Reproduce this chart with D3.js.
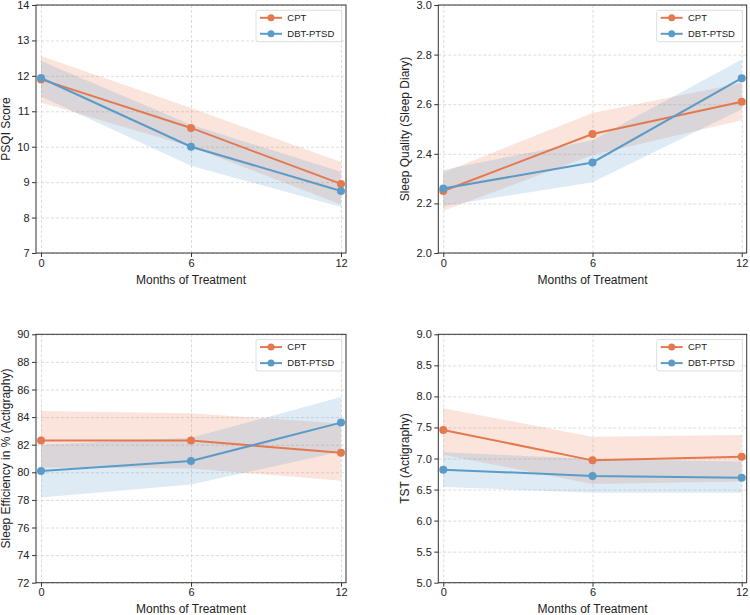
<!DOCTYPE html>
<html>
<head>
<meta charset="utf-8">
<script src="https://cdn.jsdelivr.net/npm/d3@7"></script>
<style>
  body { margin: 0; background: #fff; }
  svg { display: block; font-family: "Liberation Sans", Arial, Helvetica, sans-serif; }
  .tick text { fill: #222; }
</style>
</head>
<body>
<svg id="chart" width="750" height="615"></svg>
<script>
// Months on the x axis
const months = [0, 6, 12];
const groups = ['CPT', 'DBT-PTSD'];

// PSQI
const psqiCpt = [11.90, 10.53, 8.95];
const psqiCptLo = [11.25, 10.00, 8.37];
const psqiCptHi = [12.56, 11.09, 9.57];
const psqiDbt = [11.94, 10.00, 8.75];
const psqiDbtLo = [11.42, 9.46, 8.30];
const psqiDbtHi = [12.42, 10.62, 9.29];

// Sleep quality (diary)
const sqCpt = [2.25, 2.48, 2.61];
const sqCptLo = [2.17, 2.395, 2.535];
const sqCptHi = [2.325, 2.565, 2.685];
const sqDbt = [2.26, 2.365, 2.705];
const sqDbtLo = [2.19, 2.285, 2.58];
const sqDbtHi = [2.335, 2.455, 2.78];

// Sleep efficiency (actigraphy)
const seCpt = [82.3, 82.3, 81.42];
const seCptLo = [80.35, 80.28, 79.39];
const seCptHi = [84.45, 84.27, 83.54];
const seDbt = [80.1, 80.82, 83.6];
const seDbtLo = [78.18, 79.12, 81.5];
const seDbtHi = [82.0, 82.5, 85.45];

// TST (actigraphy)
const tstCpt = [7.46, 6.97, 7.03];
const tstCptLo = [7.06, 6.59, 6.63];
const tstCptHi = [7.81, 7.35, 7.38];
const tstDbt = [6.82, 6.72, 6.69];
const tstDbtLo = [6.54, 6.45, 6.45];
const tstDbtHi = [7.10, 6.99, 6.95];

// y ticks per panel
const psqiTicks = [7, 8, 9, 10, 11, 12, 13, 14];
const sqTicks = [2.0, 2.2, 2.4, 2.6, 2.8, 3.0];
const seTicks = [72, 74, 76, 78, 80, 82, 84, 86, 88, 90];
const tstTicks = [5.0, 5.5, 6.0, 6.5, 7.0, 7.5, 8.0, 8.5, 9.0];

const colors = {'CPT': '#E4794F', 'DBT-PTSD': '#5B9BC7'};

const panels = [
    {box: [36, 346, 5, 253], ylabel: 'PSQI Score', ticks: psqiTicks, fmt: d3.format('d'),
     series: [[psqiCpt, psqiCptLo, psqiCptHi], [psqiDbt, psqiDbtLo, psqiDbtHi]]},
    {box: [438.3, 746.7, 5, 253], ylabel: 'Sleep Quality (Sleep Diary)', ticks: sqTicks, fmt: d3.format('.1f'),
     series: [[sqCpt, sqCptLo, sqCptHi], [sqDbt, sqDbtLo, sqDbtHi]]},
    {box: [36, 346, 334.3, 582.7], ylabel: 'Sleep Efficiency in % (Actigraphy)', ticks: seTicks, fmt: d3.format('d'),
     series: [[seCpt, seCptLo, seCptHi], [seDbt, seDbtLo, seDbtHi]]},
    {box: [438.3, 746.7, 334.3, 582.7], ylabel: 'TST (Actigraphy)', ticks: tstTicks, fmt: d3.format('.1f'),
     series: [[tstCpt, tstCptLo, tstCptHi], [tstDbt, tstDbtLo, tstDbtHi]]}
];

const svg = d3.select('#chart');

panels.forEach(p => {
    const [x0, x1, y0, y1] = p.box;
    const w = x1 - x0, h = y1 - y0;
    const g = svg.append('g').attr('transform', `translate(${x0},${y0})`);

    const x = d3.scaleLinear().domain([-0.2, 12.2]).range([0, w]);
    const y = d3.scaleLinear().domain(d3.extent(p.ticks)).range([h, 0]);

    // grid
    g.append('g')
        .call(d3.axisLeft(y).tickValues(p.ticks).tickSize(-w).tickFormat(''))
        .call(s => s.select('.domain').remove())
        .call(s => s.selectAll('line').attr('stroke', '#cfcfcf').attr('stroke-width', 0.7).attr('stroke-dasharray', '3,2'));
    g.append('g')
        .call(d3.axisBottom(x).tickValues(months).tickSize(h).tickFormat(''))
        .call(s => s.select('.domain').remove())
        .call(s => s.selectAll('line').attr('stroke', '#cfcfcf').attr('stroke-width', 0.7).attr('stroke-dasharray', '3,2'));

    // bands
    p.series.forEach((s, i) => {
        const [mean, lo, hi] = s;
        const area = d3.area()
            .x((d, j) => x(months[j]))
            .y0((d, j) => y(lo[j]))
            .y1((d, j) => y(hi[j]));
        g.append('path')
            .datum(mean)
            .attr('d', area)
            .attr('fill', colors[groups[i]])
            .attr('fill-opacity', 0.2);
    });

    // lines + markers
    p.series.forEach((s, i) => {
        const mean = s[0];
        const c = colors[groups[i]];
        const line = d3.line().x((d, j) => x(months[j])).y(d => y(d));
        g.append('path')
            .datum(mean)
            .attr('d', line)
            .attr('fill', 'none')
            .attr('stroke', c)
            .attr('stroke-width', 2);
        g.selectAll(null)
            .data(mean)
            .enter().append('circle')
            .attr('cx', (d, j) => x(months[j]))
            .attr('cy', d => y(d))
            .attr('r', 4)
            .attr('fill', c);
    });

    // axes
    g.append('g')
        .call(d3.axisLeft(y).tickValues(p.ticks).tickFormat(p.fmt).tickSize(4).tickPadding(2.5))
        .call(s => s.select('.domain').remove())
        .call(s => s.selectAll('line').attr('stroke', '#333'))
        .call(s => s.selectAll('text').style('font-size', '11px'));
    g.append('g')
        .attr('transform', `translate(0,${h})`)
        .call(d3.axisBottom(x).tickValues(months).tickFormat(d3.format('d')).tickSize(4).tickPadding(2))
        .call(s => s.select('.domain').remove())
        .call(s => s.selectAll('line').attr('stroke', '#333'))
        .call(s => s.selectAll('text').style('font-size', '11px'));

    // frame
    g.append('rect')
        .attr('width', w).attr('height', h)
        .attr('fill', 'none').attr('stroke', '#333').attr('stroke-width', 1);

    // labels
    g.append('text')
        .attr('x', w / 2)
        .attr('y', h + 30.5)
        .attr('text-anchor', 'middle')
        .style('font-size', '12px')
        .style('fill', '#222')
        .text('Months of Treatment');
    const lx = x0 < 100 ? -30 : -33.3;
    g.append('text')
        .attr('transform', `translate(${lx + 4},${h / 2}) rotate(-90)`)
        .attr('text-anchor', 'middle')
        .style('font-size', '12px')
        .style('fill', '#222')
        .text(p.ylabel);

    // legend
    const lg = g.append('g').attr('transform', `translate(${w - 90},5.3)`);
    lg.append('rect')
        .attr('width', 85.7).attr('height', 31.4)
        .attr('rx', 2)
        .attr('fill', '#fff').attr('fill-opacity', 0.85)
        .attr('stroke', '#d5d5d5').attr('stroke-width', 0.8);
    groups.forEach((name, i) => {
        const ry = 7.5 + i * 16;
        lg.append('line')
            .attr('x1', 4).attr('x2', 26)
            .attr('y1', ry).attr('y2', ry)
            .attr('stroke', colors[name]).attr('stroke-width', 2);
        lg.append('circle')
            .attr('cx', 15).attr('cy', ry).attr('r', 3.5)
            .attr('fill', colors[name]);
        lg.append('text')
            .attr('x', 31.3).attr('y', ry + 3.3)
            .style('font-size', '9.5px')
            .style('fill', '#222')
            .text(name);
    });
});
</script>
</body>
</html>
